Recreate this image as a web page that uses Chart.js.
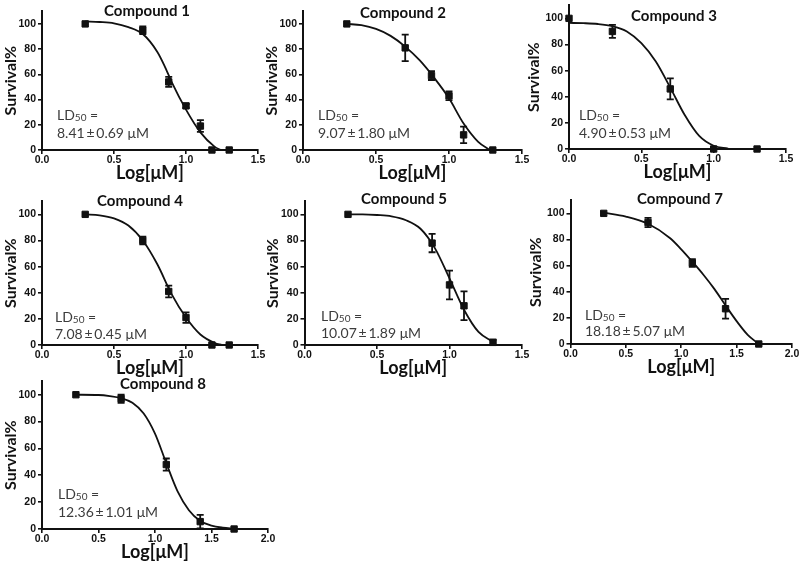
<!DOCTYPE html>
<html>
<head>
<meta charset="utf-8">
<script src="https://cdn.jsdelivr.net/npm/chart.js@4.4.1/dist/chart.umd.min.js"></script>
<style>
  html, body { margin: 0; padding: 0; background: #fff; }
  body { width: 800px; height: 563px; position: relative; overflow: hidden; }
  canvas { position: absolute; }
</style>
</head>
<body>
<script>
// ---- data ----
const titles = ['Compound 1', 'Compound 2', 'Compound 3', 'Compound 4', 'Compound 5', 'Compound 7', 'Compound 8'];
const ldLabels = ['8.41\u2009±\u20090.69 μM', '9.07\u2009±\u20091.80 μM', '4.90\u2009±\u20090.53 μM',
                  '7.08\u2009±\u20090.45 μM', '10.07\u2009±\u20091.89 μM', '18.18\u2009±\u20095.07 μM',
                  '12.36\u2009±\u20091.01 μM'];

const yTicks = [0, 20, 40, 60, 80, 100];
const xTicksShort = [0, 0.5, 1.0, 1.5];
const xTicksLong = [0, 0.5, 1.0, 1.5, 2.0];

// measured points (log conc, survival %, SEM)
const c1X = [0.30, 0.70, 0.88, 1.00, 1.10, 1.18, 1.30];
const c1Y = [100, 95, 54, 35, 19, 0, 0];
const c1Err = [0, 3, 4, 1.5, 4.7, 0, 0];
const c2X = [0.30, 0.70, 0.88, 1.00, 1.10, 1.30];
const c2Y = [100, 81, 59, 43, 12, 0];
const c2Err = [0, 10.5, 3.5, 3.5, 6.5, 0];
const c3X = [0, 0.30, 0.70, 1.00, 1.30];
const c3Y = [100, 90, 46, 0, 0];
const c3Err = [0, 5, 8, 0, 0];
const c4X = [0.30, 0.70, 0.88, 1.00, 1.18, 1.30];
const c4Y = [100, 80, 41, 21, 0, 0];
const c4Err = [0, 3, 4.5, 4, 0, 0];
const c5X = [0.30, 0.88, 1.00, 1.10, 1.30];
const c5Y = [100, 78, 46, 30, 2];
const c5Err = [0, 7, 11, 11, 2];
const c7X = [0.30, 0.70, 1.10, 1.40, 1.70];
const c7Y = [100, 93, 62, 27, 0];
const c7Err = [0, 3.5, 3, 7.5, 0];
const c8X = [0.30, 0.70, 1.10, 1.40, 1.70];
const c8Y = [100, 97, 48, 5.5, 0];
const c8Err = [0, 3, 4.5, 5, 0];

// fitted curves
const c1FitX = [0.30, 0.40, 0.50, 0.60, 0.70, 0.80, 0.85, 0.90, 1.00, 1.10, 1.20, 1.24];
const c1FitY = [102, 101.5, 100.5, 97.5, 92, 78, 67, 54, 32, 14, 2.5, 0];
const c2FitX = [0.30, 0.40, 0.50, 0.60, 0.70, 0.80, 0.90, 1.00, 1.10, 1.20, 1.28];
const c2FitY = [100, 99, 96, 90.5, 82, 71, 57, 41, 21, 6.5, 0];
const c3FitX = [0, 0.10, 0.20, 0.30, 0.40, 0.50, 0.60, 0.70, 0.80, 0.90, 1.00, 1.10];
const c3FitY = [96.5, 96.3, 95.7, 94, 90, 81, 67, 47, 26, 10, 2.5, 0.3];
const c4FitX = [0.30, 0.40, 0.50, 0.60, 0.70, 0.80, 0.90, 1.00, 1.10, 1.20, 1.25];
const c4FitY = [100, 99.3, 97, 91.5, 80, 62, 39, 21, 8, 1.5, 0];
const c5FitX = [0.30, 0.40, 0.50, 0.60, 0.70, 0.80, 0.90, 1.00, 1.10, 1.20, 1.30];
const c5FitY = [100, 100, 99.5, 98.5, 95.5, 89, 74, 51, 27, 10, 2.5];
const c7FitX = [0.30, 0.50, 0.70, 0.90, 1.00, 1.10, 1.20, 1.30, 1.40, 1.50, 1.60, 1.70];
const c7FitY = [100.5, 97.5, 92, 81, 72.5, 63, 53, 42, 29.5, 17.5, 7, 0];
const c8FitX = [0.30, 0.50, 0.60, 0.70, 0.80, 0.90, 1.00, 1.10, 1.20, 1.30, 1.40, 1.50, 1.60, 1.70];
const c8FitY = [100, 99.8, 99, 97.5, 94, 86, 71, 49, 28, 14, 6, 2.5, 1, 0.3];

const series = [
  { x: c1X, y: c1Y, err: c1Err, fitX: c1FitX, fitY: c1FitY, xTicks: xTicksShort },
  { x: c2X, y: c2Y, err: c2Err, fitX: c2FitX, fitY: c2FitY, xTicks: xTicksShort },
  { x: c3X, y: c3Y, err: c3Err, fitX: c3FitX, fitY: c3FitY, xTicks: xTicksShort },
  { x: c4X, y: c4Y, err: c4Err, fitX: c4FitX, fitY: c4FitY, xTicks: xTicksShort },
  { x: c5X, y: c5Y, err: c5Err, fitX: c5FitX, fitY: c5FitY, xTicks: xTicksShort },
  { x: c7X, y: c7Y, err: c7Err, fitX: c7FitX, fitY: c7FitY, xTicks: xTicksLong },
  { x: c8X, y: c8Y, err: c8Err, fitX: c8FitX, fitY: c8FitY, xTicks: xTicksLong }
];

// ---- page layout (px): plot box, y-axis width, title centre, LD text spot ----
const frames = [
  { l: 42,  r: 258, b: 150, t100: 22,  w: 42,   title: [147, 11],  ld: [57, 119.5, 137.5] },
  { l: 303, r: 522, b: 150, t100: 22,  w: 42,   title: [403, 13.5], ld: [318, 120, 138] },
  { l: 569, r: 786, b: 149, t100: 16,  w: 46,   title: [674, 16],  ld: [579, 119.5, 137.5] },
  { l: 42,  r: 258, b: 345, t100: 212, w: 42,   title: [140, 201], ld: [55, 322, 339] },
  { l: 304, r: 522, b: 345, t100: 212, w: 42.5, title: [404, 199], ld: [321, 321, 338] },
  { l: 570, r: 792, b: 344, t100: 211, w: 45.5, title: [680, 199], ld: [585, 320, 336] },
  { l: 42,  r: 268, b: 529, t100: 393, w: 42,   title: [163, 384], ld: [58, 498.5, 516.5] }
];

const PT = 6, PR = 14, H = 34;
const INK = '#111';
const tickFont = { family: '"Liberation Sans", Arial, sans-serif', size: 10.5, weight: 'bold' };

function buildPanel(s, f, idx) {
  const top = f.b - 1.1 * (f.b - f.t100);
  const left = Math.round(f.l - f.w);
  const cTop = Math.round(top - PT);
  const width = Math.round(f.r + PR) - left;
  const height = Math.round(f.b + H) - cTop;

  const cv = document.createElement('canvas');
  cv.width = width; cv.height = height;
  cv.style.left = left + 'px'; cv.style.top = cTop + 'px';
  cv.style.width = width + 'px'; cv.style.height = height + 'px';
  document.body.appendChild(cv);

  const errorBars = {
    id: 'errorBars' + idx,
    afterDatasetsDraw(chart) {
      const { ctx, scales: { x, y } } = chart;
      ctx.save();
      ctx.strokeStyle = INK;
      ctx.lineWidth = 1.8;
      s.x.forEach((xv, i) => {
        const e = s.err[i];
        if (!e) return;
        const px = x.getPixelForValue(xv);
        const hi = y.getPixelForValue(s.y[i] + e);
        const lo = y.getPixelForValue(s.y[i] - e);
        ctx.beginPath();
        ctx.moveTo(px, hi); ctx.lineTo(px, lo);
        ctx.moveTo(px - 3.5, hi); ctx.lineTo(px + 3.5, hi);
        ctx.moveTo(px - 3.5, lo); ctx.lineTo(px + 3.5, lo);
        ctx.stroke();
      });
      ctx.restore();
    }
  };

  const labels = {
    id: 'labels' + idx,
    afterDraw(chart) {
      const ctx = chart.ctx;
      ctx.save();
      ctx.fillStyle = INK;
      ctx.textAlign = 'center';
      ctx.textBaseline = 'middle';
      ctx.font = 'bold 15px Lato';
      ctx.fillText(titles[idx], f.title[0] - left, f.title[1] - cTop);

      const lx = f.ld[0] - left, y1 = f.ld[1] - cTop, y2 = f.ld[2] - cTop;
      ctx.fillStyle = '#3c3c3c';
      ctx.textAlign = 'left';
      ctx.textBaseline = 'alphabetic';
      ctx.font = '14px Lato';
      ctx.fillText('LD', lx, y1);
      let cx = lx + ctx.measureText('LD').width;
      ctx.font = '10px Lato';
      ctx.fillText('50', cx, y1 + 1);
      cx += ctx.measureText('50').width;
      ctx.font = '14px Lato';
      ctx.fillText(' =', cx, y1);
      ctx.fillText(ldLabels[idx], lx, y2);
      ctx.restore();
    }
  };

  new Chart(cv, {
    type: 'scatter',
    data: {
      datasets: [
        {
          data: s.x.map((v, i) => ({ x: v, y: s.y[i] })),
          pointStyle: 'rect', pointRadius: 4.5, pointHoverRadius: 4.5,
          backgroundColor: INK, borderColor: INK, borderWidth: 1,
          clip: false
        },
        {
          data: s.fitX.map((v, i) => ({ x: v, y: s.fitY[i] })),
          showLine: true, pointRadius: 0,
          borderColor: INK, borderWidth: 1.8,
          cubicInterpolationMode: 'monotone'
        }
      ]
    },
    options: {
      responsive: false,
      animation: false,
      events: [],
      layout: { padding: { left: 0, top: PT, right: PR, bottom: 0 } },
      plugins: { legend: { display: false }, tooltip: { enabled: false } },
      scales: {
        x: {
          type: 'linear', min: 0, max: s.xTicks[s.xTicks.length - 1],
          afterBuildTicks: sc => { sc.ticks = s.xTicks.map(v => ({ value: v })); },
          afterFit: sc => { sc.height = H; },
          grid: { display: true, drawOnChartArea: false, drawTicks: true, tickLength: 4, color: INK, lineWidth: 1.6 },
          border: { display: true, color: INK, width: 2 },
          ticks: { font: tickFont, color: INK, padding: 0, maxRotation: 0, autoSkip: false,
                   callback: v => Number(v).toFixed(1) },
          title: { display: true, text: 'Log[μM]', color: INK,
                   font: { family: 'Lato', size: 18, weight: 'bold' }, padding: { top: 0, bottom: 0 } }
        },
        y: {
          type: 'linear', min: 0, max: 110,
          afterBuildTicks: sc => { sc.ticks = yTicks.map(v => ({ value: v })); },
          afterFit: sc => { sc.width = f.w; },
          grid: { display: true, drawOnChartArea: false, drawTicks: true, tickLength: 4, color: INK, lineWidth: 1.6 },
          border: { display: true, color: INK, width: 2 },
          ticks: { font: tickFont, color: INK, padding: 2, autoSkip: false },
          title: { display: true, text: 'Survival%', color: INK,
                   font: { family: 'Lato', size: 16, weight: 'bold' }, padding: { top: 1.5, bottom: 0 } }
        }
      }
    },
    plugins: [errorBars, labels]
  });
}

Promise.all([
  document.fonts.load('bold 15px Lato'),
  document.fonts.load('14px Lato'),
  document.fonts.load('bold 10px "Liberation Sans"')
]).catch(() => {}).then(() => {
  series.forEach((s, i) => buildPanel(s, frames[i], i));
});
</script>
</body>
</html>
